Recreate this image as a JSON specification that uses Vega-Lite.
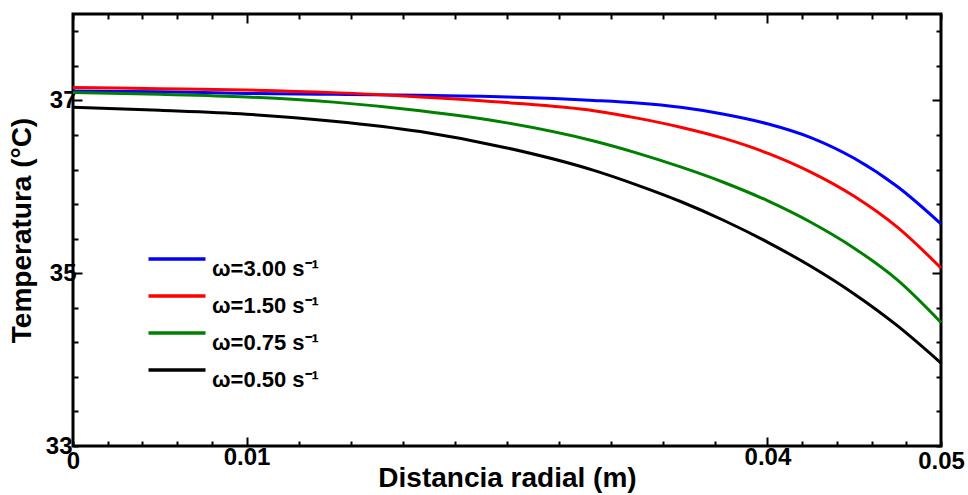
{
  "$schema": "https://vega.github.io/schema/vega-lite/v6.json",
  "width": 868,
  "height": 432,
  "autosize": {"type": "none"},
  "padding": {"left": 73, "top": 14, "right": 27, "bottom": 49},
  "background": "white",
  "config": {
    "view": {"stroke": "black", "strokeWidth": 3},
    "axis": {
      "grid": false,
      "domain": false,
      "labelFont": "Liberation Sans",
      "labelFontWeight": "bold",
      "labelFontSize": 24,
      "labelColor": "black",
      "titleFont": "Liberation Sans",
      "titleFontWeight": "bold",
      "titleFontSize": 28,
      "titleColor": "black",
      "tickColor": "black",
      "tickWidth": 2
    }
  },
  "data": {
    "values": [
      {"r": 0, "T": 37.11, "w": "ω=3.00  s⁻¹"},
      {"r": 0.005, "T": 37.10, "w": "ω=3.00  s⁻¹"},
      {"r": 0.01, "T": 37.08, "w": "ω=3.00  s⁻¹"},
      {"r": 0.015, "T": 37.07, "w": "ω=3.00  s⁻¹"},
      {"r": 0.02, "T": 37.06, "w": "ω=3.00  s⁻¹"},
      {"r": 0.025, "T": 37.04, "w": "ω=3.00  s⁻¹"},
      {"r": 0.03, "T": 37.00, "w": "ω=3.00  s⁻¹"},
      {"r": 0.0325, "T": 36.97, "w": "ω=3.00  s⁻¹"},
      {"r": 0.035, "T": 36.92, "w": "ω=3.00  s⁻¹"},
      {"r": 0.0375, "T": 36.84, "w": "ω=3.00  s⁻¹"},
      {"r": 0.04, "T": 36.73, "w": "ω=3.00  s⁻¹"},
      {"r": 0.0425, "T": 36.57, "w": "ω=3.00  s⁻¹"},
      {"r": 0.045, "T": 36.33, "w": "ω=3.00  s⁻¹"},
      {"r": 0.0475, "T": 36.00, "w": "ω=3.00  s⁻¹"},
      {"r": 0.05, "T": 35.57, "w": "ω=3.00  s⁻¹"},
      {"r": 0, "T": 37.15, "w": "ω=1.50 s⁻¹"},
      {"r": 0.005, "T": 37.135, "w": "ω=1.50 s⁻¹"},
      {"r": 0.01, "T": 37.12, "w": "ω=1.50 s⁻¹"},
      {"r": 0.015, "T": 37.09, "w": "ω=1.50 s⁻¹"},
      {"r": 0.02, "T": 37.04, "w": "ω=1.50 s⁻¹"},
      {"r": 0.025, "T": 36.975, "w": "ω=1.50 s⁻¹"},
      {"r": 0.03, "T": 36.88, "w": "ω=1.50 s⁻¹"},
      {"r": 0.0325, "T": 36.795, "w": "ω=1.50 s⁻¹"},
      {"r": 0.035, "T": 36.69, "w": "ω=1.50 s⁻¹"},
      {"r": 0.0375, "T": 36.56, "w": "ω=1.50 s⁻¹"},
      {"r": 0.04, "T": 36.39, "w": "ω=1.50 s⁻¹"},
      {"r": 0.0425, "T": 36.17, "w": "ω=1.50 s⁻¹"},
      {"r": 0.045, "T": 35.89, "w": "ω=1.50 s⁻¹"},
      {"r": 0.0475, "T": 35.53, "w": "ω=1.50 s⁻¹"},
      {"r": 0.05, "T": 35.06, "w": "ω=1.50 s⁻¹"},
      {"r": 0, "T": 37.09, "w": "ω=0.75 s⁻¹"},
      {"r": 0.005, "T": 37.07, "w": "ω=0.75 s⁻¹"},
      {"r": 0.01, "T": 37.04, "w": "ω=0.75 s⁻¹"},
      {"r": 0.015, "T": 36.98, "w": "ω=0.75 s⁻¹"},
      {"r": 0.02, "T": 36.88, "w": "ω=0.75 s⁻¹"},
      {"r": 0.025, "T": 36.74, "w": "ω=0.75 s⁻¹"},
      {"r": 0.03, "T": 36.53, "w": "ω=0.75 s⁻¹"},
      {"r": 0.0325, "T": 36.39, "w": "ω=0.75 s⁻¹"},
      {"r": 0.035, "T": 36.23, "w": "ω=0.75 s⁻¹"},
      {"r": 0.0375, "T": 36.05, "w": "ω=0.75 s⁻¹"},
      {"r": 0.04, "T": 35.84, "w": "ω=0.75 s⁻¹"},
      {"r": 0.0425, "T": 35.59, "w": "ω=0.75 s⁻¹"},
      {"r": 0.045, "T": 35.29, "w": "ω=0.75 s⁻¹"},
      {"r": 0.0475, "T": 34.92, "w": "ω=0.75 s⁻¹"},
      {"r": 0.05, "T": 34.43, "w": "ω=0.75 s⁻¹"},
      {"r": 0, "T": 36.92, "w": "ω=0.50 s⁻¹"},
      {"r": 0.005, "T": 36.885, "w": "ω=0.50 s⁻¹"},
      {"r": 0.01, "T": 36.84, "w": "ω=0.50 s⁻¹"},
      {"r": 0.015, "T": 36.76, "w": "ω=0.50 s⁻¹"},
      {"r": 0.02, "T": 36.64, "w": "ω=0.50 s⁻¹"},
      {"r": 0.025, "T": 36.45, "w": "ω=0.50 s⁻¹"},
      {"r": 0.03, "T": 36.19, "w": "ω=0.50 s⁻¹"},
      {"r": 0.0325, "T": 36.02, "w": "ω=0.50 s⁻¹"},
      {"r": 0.035, "T": 35.83, "w": "ω=0.50 s⁻¹"},
      {"r": 0.0375, "T": 35.61, "w": "ω=0.50 s⁻¹"},
      {"r": 0.04, "T": 35.36, "w": "ω=0.50 s⁻¹"},
      {"r": 0.0425, "T": 35.08, "w": "ω=0.50 s⁻¹"},
      {"r": 0.045, "T": 34.76, "w": "ω=0.50 s⁻¹"},
      {"r": 0.0475, "T": 34.39, "w": "ω=0.50 s⁻¹"},
      {"r": 0.05, "T": 33.96, "w": "ω=0.50 s⁻¹"}
    ]
  },
  "layer": [
    {
      "mark": {"type": "line", "strokeWidth": 3, "interpolate": "monotone"},
      "encoding": {
        "x": {
          "field": "r",
          "type": "quantitative",
          "scale": {"domain": [0, 0.05], "nice": false, "zero": false},
          "axis": {
            "orient": "bottom",
            "title": "Distancia radial (m)",
            "values": [0, 0.002, 0.004, 0.006, 0.008, 0.01, 0.013, 0.016, 0.019, 0.022, 0.025, 0.028, 0.031, 0.034, 0.037, 0.04, 0.042, 0.044, 0.046, 0.048, 0.05],
            "labelExpr": "datum.value < 0.0005 ? '0' : ((abs(datum.value-0.01)<0.0001 || abs(datum.value-0.04)<0.0001 || abs(datum.value-0.05)<0.0001) ? format(datum.value, '.2f') : '')",
            "tickSize": {"condition": {"test": "abs(datum.value-0.01)<0.0001 || abs(datum.value-0.04)<0.0001", "value": -9}, "value": -5},
            "labelFlush": false,
            "labelPadding": 8,
            "titlePadding": -9
          }
        },
        "y": {
          "field": "T",
          "type": "quantitative",
          "scale": {"domain": [33, 38], "nice": false, "zero": false},
          "axis": {
            "orient": "left",
            "title": "Temperatura (°C)",
            "values": [33, 33.4, 33.8, 34.2, 34.6, 35, 35.4, 35.8, 36.2, 36.6, 37, 37.4, 37.8],
            "labelExpr": "(abs(datum.value-33)<0.01 || abs(datum.value-35)<0.01 || abs(datum.value-37)<0.01) ? format(datum.value, '.0f') : ''",
            "tickSize": {"condition": {"test": "abs(datum.value-35)<0.01 || abs(datum.value-37)<0.01", "value": -9}, "value": -5},
            "labelPadding": 6,
            "titlePadding": 9
          }
        },
        "color": {
          "field": "w",
          "type": "nominal",
          "scale": {
            "domain": ["ω=3.00  s⁻¹", "ω=1.50 s⁻¹", "ω=0.75 s⁻¹", "ω=0.50 s⁻¹"],
            "range": ["#0000FF", "#FF0000", "#008000", "#000000"]
          },
          "legend": {
            "orient": "none",
            "legendX": 88,
            "legendY": 229,
            "title": null,
            "symbolType": "M-2,0H2",
            "symbolSize": 812,
            "symbolStrokeWidth": 3.5,
            "labelFont": "Liberation Sans",
            "labelFontWeight": "bold",
            "labelFontSize": 22,
            "labelColor": "black",
            "labelBaseline": "top",
            "labelOffset": 19,
            "rowPadding": 0,
            "padding": 0
          }
        }
      }
    },
    {
      "mark": {"type": "line", "strokeOpacity": 0},
      "encoding": {
        "x": {
          "field": "r",
          "type": "quantitative",
          "scale": {"domain": [0, 0.05], "nice": false, "zero": false},
          "axis": {
            "orient": "top",
            "title": null,
            "labels": false,
            "values": [0, 0.002, 0.004, 0.006, 0.008, 0.01, 0.013, 0.016, 0.019, 0.022, 0.025, 0.028, 0.031, 0.034, 0.037, 0.04, 0.042, 0.044, 0.046, 0.048, 0.05],
            "tickSize": {"condition": {"test": "abs(datum.value-0.01)<0.0001 || abs(datum.value-0.04)<0.0001", "value": -9}, "value": -5}
          }
        },
        "y": {
          "field": "T",
          "type": "quantitative",
          "scale": {"domain": [33, 38], "nice": false, "zero": false},
          "axis": {
            "orient": "right",
            "title": null,
            "labels": false,
            "values": [33, 33.4, 33.8, 34.2, 34.6, 35, 35.4, 35.8, 36.2, 36.6, 37, 37.4, 37.8],
            "tickSize": {"condition": {"test": "abs(datum.value-35)<0.01 || abs(datum.value-37)<0.01", "value": -9}, "value": -5}
          }
        },
        "detail": {"field": "w"}
      }
    }
  ],
  "resolve": {"axis": {"x": "independent", "y": "independent"}}
}
